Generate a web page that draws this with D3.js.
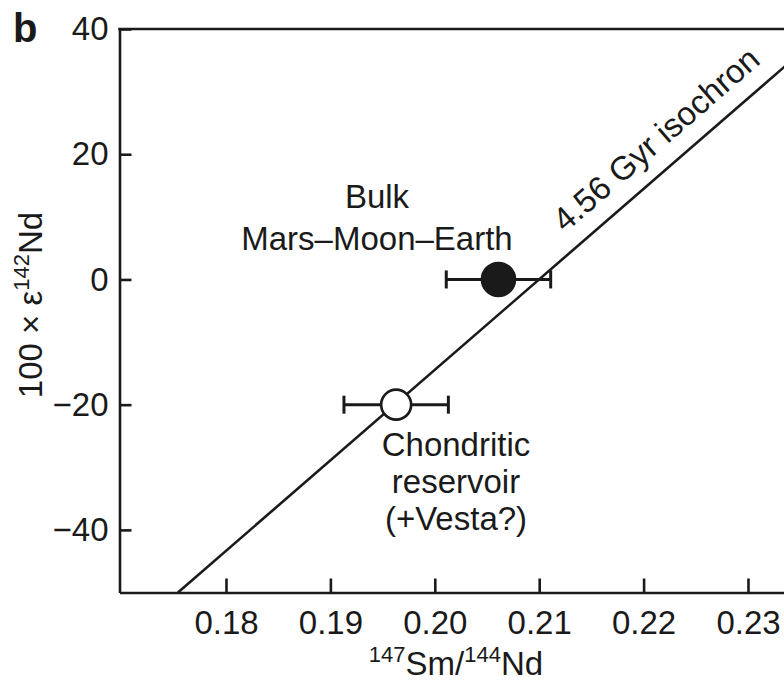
<!DOCTYPE html>
<html>
<head>
<meta charset="utf-8">
<script src="https://cdn.jsdelivr.net/npm/d3@7/dist/d3.min.js"></script>
<style>
  html, body { margin: 0; padding: 0; background: #fff; }
  svg { display: block; }
  text { font-family: "Liberation Sans", Arial, Helvetica, sans-serif; fill: #1a1a1a; }
</style>
</head>
<body>
<script>
// ---- data ----
const xTicks = [0.18, 0.19, 0.20, 0.21, 0.22, 0.23];
const yTicks = [-40, -20, 0, 20, 40];
const xDomain = [0.1698, 0.24];
const yDomain = [-50, 40];

const sampleLabels = [["Bulk", "Mars–Moon–Earth"], ["Chondritic", "reservoir", "(+Vesta?)"]];
const sampleX = [0.2061, 0.1963];
const sampleY = [0, -20];
const sampleXErr = [0.0050, 0.0050];
const sampleFilled = [true, false];

const isochronX = [0.1754, 0.2360];
const isochronY = [-50, 37.6];
const isochronLabel = "4.56 Gyr isochron";
const isochronLabelAt = 0.2136;

const panelLabel = "b";

// ---- layout ----
const W = 784, H = 686;
const FS = 33;
const ink = "#1a1a1a";

const svg = d3.select("body").append("svg").attr("width", W).attr("height", H);

const x = d3.scaleLinear().domain(xDomain).range([119.5, 119.5 + (xDomain[1] - xDomain[0]) * 10440]);
const y = d3.scaleLinear().domain(yDomain).range([592.5, 29]);

const plot = svg.append("g");
plot.append("clipPath").attr("id", "clip").append("rect")
  .attr("x", x(xDomain[0])).attr("y", y(yDomain[1]))
  .attr("width", x(xDomain[1]) - x(xDomain[0])).attr("height", y(yDomain[0]) - y(yDomain[1]));

// isochron line
const lineGen = d3.line().x(d => x(d[0])).y(d => y(d[1]));
plot.append("path")
  .datum(isochronX.map((v, i) => [v, isochronY[i]]))
  .attr("d", lineGen)
  .attr("clip-path", "url(#clip)")
  .attr("fill", "none").attr("stroke", ink).attr("stroke-width", 2.6);

// isochron label
const ang = Math.atan2(y(isochronY[1]) - y(isochronY[0]), x(isochronX[1]) - x(isochronX[0])) * 180 / Math.PI;
const slope = (isochronY[1] - isochronY[0]) / (isochronX[1] - isochronX[0]);
const lx = x(isochronLabelAt), ly = y(isochronY[0] + slope * (isochronLabelAt - isochronX[0]));
plot.append("text")
  .attr("transform", `translate(${lx},${ly}) rotate(${ang})`)
  .attr("x", 0).attr("y", -18)
  .attr("font-size", FS)
  .text(isochronLabel);

// axes
const yAxis = d3.axisLeft(y).tickValues(yTicks).tickSizeInner(-12).tickSizeOuter(0).tickPadding(11)
  .tickFormat(d3.format("d"));
const gy = svg.append("g").attr("transform", `translate(${x(xDomain[0])},0)`).call(yAxis);

const xAxis = d3.axisBottom(x).tickValues(xTicks).tickSizeInner(-14).tickSizeOuter(0).tickPadding(18)
  .tickFormat(d3.format(".2f"));
const gx = svg.append("g").attr("transform", `translate(0,${y(yDomain[0])})`).call(xAxis);

[gx, gy].forEach(g => {
  g.select(".domain").attr("stroke", ink).attr("stroke-width", 2.6);
  g.selectAll(".tick line").attr("stroke", ink).attr("stroke-width", 2.6);
  g.selectAll(".tick text").attr("font-size", FS).attr("fill", ink)
    .style("font-family", '"Liberation Sans", Arial, sans-serif');
});

// top frame line
svg.append("line")
  .attr("x1", x(xDomain[0]) - 1.3).attr("x2", x(xDomain[1]))
  .attr("y1", y(yDomain[1])).attr("y2", y(yDomain[1]))
  .attr("stroke", ink).attr("stroke-width", 2.6);

// error bars
const pts = sampleX.map((v, i) => ({ x: v, y: sampleY[i], e: sampleXErr[i], filled: sampleFilled[i] }));
const eb = plot.append("g");
pts.forEach(p => {
  eb.append("line").attr("x1", x(p.x - p.e)).attr("x2", x(p.x + p.e))
    .attr("y1", y(p.y)).attr("y2", y(p.y)).attr("stroke", ink).attr("stroke-width", 3);
  [p.x - p.e, p.x + p.e].forEach(c => {
    eb.append("line").attr("x1", x(c)).attr("x2", x(c))
      .attr("y1", y(p.y) - 9).attr("y2", y(p.y) + 9).attr("stroke", ink).attr("stroke-width", 3);
  });
});
plot.append("g").selectAll("circle").data(pts).join("circle")
  .attr("cx", d => x(d.x)).attr("cy", d => y(d.y))
  .attr("r", d => d.filled ? 16.5 : 15)
  .attr("fill", d => d.filled ? ink : "#fff")
  .attr("stroke", ink).attr("stroke-width", 2.6);

// sample labels
const labelPos = [{ cx: 377, base: 208, step: 42 }, { cx: 456, base: 456, step: 37 }];
sampleLabels.forEach((lines, i) => {
  const t = svg.append("text").attr("text-anchor", "middle").attr("font-size", FS);
  lines.forEach((s, j) => {
    t.append("tspan").attr("x", labelPos[i].cx).attr("y", labelPos[i].base + j * labelPos[i].step).text(s);
  });
});

// axis titles
const xt = svg.append("text").attr("text-anchor", "middle").attr("font-size", FS)
  .attr("x", 456).attr("y", 675);
xt.append("tspan").attr("font-size", 22).attr("dy", -13).text("147");
xt.append("tspan").attr("dy", 13).text("Sm/");
xt.append("tspan").attr("font-size", 22).attr("dy", -13).text("144");
xt.append("tspan").attr("dy", 13).text("Nd");

const yt = svg.append("text").attr("text-anchor", "middle").attr("font-size", FS)
  .attr("transform", "translate(42,305) rotate(-90)");
yt.append("tspan").text("100 × ε");
yt.append("tspan").attr("font-size", 22).attr("dy", -13).text("142");
yt.append("tspan").attr("dy", 13).text("Nd");

// panel label
svg.append("text").attr("x", 13).attr("y", 42).attr("font-size", 40).attr("font-weight", "bold")
  .text(panelLabel);
</script>
</body>
</html>
